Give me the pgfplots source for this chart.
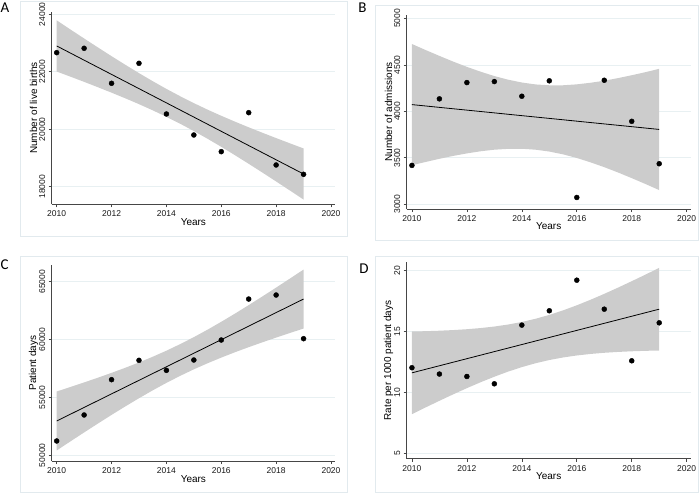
\documentclass[border=0pt]{standalone}
\usepackage{pgfplots}
\pgfplotsset{compat=1.18}
\usepackage{fontspec}
\setmainfont{Liberation Sans}
\newfontfamily\letterfont{Carlito}
\definecolor{gridc}{RGB}{232,240,242}
\definecolor{boxc}{RGB}{226,234,238}
\definecolor{bandc}{RGB}{204,204,204}
\definecolor{axc}{RGB}{70,70,70}
\pgfplotsset{
  panel/.style={
    scale only axis,
    anchor=south west,
    axis x line*=bottom, axis y line*=left,
    axis line style={axc, line width=0.7pt, -},
    tick style={axc, line width=0.6pt},
    tick align=outside,
    major tick length=3pt,
    xtick={2010,2012,...,2020},
    scaled y ticks=false, scaled x ticks=false,
    /pgf/number format/assume math mode=true,
    /pgf/number format/1000 sep={},
    ymajorgrids, grid style={gridc, line width=0.6pt},
    ticklabel style={font=\fontsize{8.5}{9}\selectfont, text=black!90},
    yticklabel style={rotate=90, anchor=south},
    xticklabel style={anchor=north},
    label style={font=\fontsize{7.8}{9}\selectfont, text=black!90},
    xlabel={Years},
    every axis x label/.style={at={(axis description cs:0.5,-0.09)}, anchor=center},
    every axis y label/.style={at={(axis description cs:-0.064,0.5)}, anchor=center, rotate=90},
  },
  band/.style={fill=bandc, draw=none},
  fit/.style={black, line width=0.8pt},
  pts/.style={only marks, mark=*, mark size=2.5pt, black},
}
\begin{document}
\begin{tikzpicture}
\path[use as bounding box] (0pt,0pt) rectangle (700pt,493pt);
\draw[boxc, line width=0.6pt] (20pt,256.3pt) rectangle (347pt,491.3pt);
\draw[boxc, line width=0.6pt] (375pt,252.3pt) rectangle (698pt,488pt);
\draw[boxc, line width=0.6pt] (20pt,0.7pt) rectangle (347pt,236.3pt);
\draw[boxc, line width=0.6pt] (375pt,0.7pt) rectangle (698pt,236.3pt);
\node[font=\letterfont\fontsize{15}{16}\selectfont] at (5pt,485pt) {A};
\node[font=\letterfont\fontsize{15}{16}\selectfont] at (362.5pt,485pt) {B};
\node[font=\letterfont\fontsize{15}{16}\selectfont] at (4.5pt,228pt) {C};
\node[font=\letterfont\fontsize{15}{16}\selectfont] at (364pt,224.5pt) {D};

% Panel A
\begin{axis}[panel, at={(51.7pt,288.7pt)}, width=283.3pt, height=192.6pt,
  xmin=2009.818, xmax=2020.146, ymin=17387, ymax=24090,
  ytick={18000,20000,22000,24000}, ylabel={Number of live births}]
\addplot[band] coordinates {(2010,23788) (2010.5,23471) (2011,23158) (2011.5,22848) (2012,22542) (2012.5,22244) (2013,21952) (2013.5,21672) (2014,21403) (2014.5,21149) (2015,20908) (2015.5,20681) (2016,20467) (2016.5,20263) (2017,20066) (2017.5,19877) (2018,19691) (2018.5,19510) (2019,19331)
 (2019,17551) (2018.5,17868) (2018,18181) (2017.5,18491) (2017,18796) (2016.5,19095) (2016,19387) (2015.5,19667) (2015,19936) (2014.5,20191) (2014,20431) (2013.5,20658) (2013,20872) (2012.5,21076) (2012,21272) (2011.5,21462) (2011,21648) (2010.5,21829) (2010,22008)} -- cycle;
\addplot[fit] coordinates {(2010,22898) (2019,18441)};
\addplot[pts] coordinates {(2010,22665) (2011,22816) (2012,21598) (2013,22294) (2014,20530) (2015,19799) (2016,19219) (2017,20576) (2018,18755) (2019,18430)};
\end{axis}

% Panel B
\begin{axis}[panel, at={(406.7pt,284pt)}, width=284pt, height=194pt,
  xmin=2009.81, xmax=2020.146, ymin=2949, ymax=5036,
  ytick={3000,3500,4000,4500,5000}, ylabel={Number of admissions}]
\addplot[band] coordinates {(2010,4724) (2010.5,4659) (2011,4596) (2011.5,4535) (2012,4478) (2012.5,4426) (2013,4379) (2013.5,4340) (2014,4310) (2014.5,4289) (2015,4280) (2015.5,4280) (2016,4290) (2016.5,4307) (2017,4329) (2017.5,4357) (2018,4388) (2018.5,4421) (2019,4457)
 (2019,3152) (2018.5,3218) (2018,3281) (2017.5,3342) (2017,3399) (2016.5,3451) (2016,3498) (2015.5,3537) (2015,3567) (2014.5,3587) (2014,3597) (2013.5,3596) (2013,3587) (2012.5,3570) (2012,3547) (2011.5,3520) (2011,3489) (2010.5,3455) (2010,3420)} -- cycle;
\addplot[fit] coordinates {(2010,4072) (2019,3805)};
\addplot[pts] coordinates {(2010,3418) (2011,4134) (2012,4309) (2013,4320) (2014,4162) (2015,4328) (2016,3073) (2017,4334) (2018,3892) (2019,3436)};
\end{axis}

% Panel C
\begin{axis}[panel, at={(51.7pt,32pt)}, width=283.3pt, height=196pt,
  xmin=2009.818, xmax=2020.146, ymin=49507, ymax=66443,
  ytick={50000,55000,60000,65000}, ylabel={Patient days}]
\addplot[band] coordinates {(2010,55513) (2010.5,55900) (2011,56297) (2011.5,56703) (2012,57124) (2012.5,57562) (2013,58024) (2013.5,58515) (2014,59039) (2014.5,59605) (2015,60210) (2015.5,60856) (2016,61537) (2016.5,62245) (2017,62978) (2017.5,63728) (2018,64492) (2018.5,65267) (2019,66050)
 (2019,60954) (2018.5,60567) (2018,60170) (2017.5,59764) (2017,59344) (2016.5,58905) (2016,58443) (2015.5,57952) (2015,57428) (2014.5,56863) (2014,56257) (2013.5,55611) (2013,54930) (2012.5,54222) (2012,53490) (2011.5,52739) (2011,51975) (2010.5,51200) (2010,50417)} -- cycle;
\addplot[fit] coordinates {(2010,52965) (2019,63502)};
\addplot[pts] coordinates {(2010,51238) (2011,53484) (2012,56535) (2013,58205) (2014,57341) (2015,58234) (2016,59961) (2017,63502) (2018,63848) (2019,60077)};
\end{axis}

% Panel D
\begin{axis}[panel, at={(406.7pt,34.3pt)}, width=284pt, height=196.4pt,
  xmin=2009.81, xmax=2020.146, ymin=4.556, ymax=20.69,
  ytick={5,10,15,20}, ylabel={Rate per 1000 patient days}]
\addplot[band] coordinates {(2010,15.005) (2010.5,15.032) (2011,15.070) (2011.5,15.123) (2012,15.193) (2012.5,15.289) (2013,15.414) (2013.5,15.578) (2014,15.788) (2014.5,16.052) (2015,16.370) (2015.5,16.740) (2016,17.158) (2016.5,17.613) (2017,18.099) (2017.5,18.609) (2018,19.138) (2018.5,19.680) (2019,20.235)
 (2019,13.445) (2018.5,13.418) (2018,13.380) (2017.5,13.327) (2017,13.257) (2016.5,13.161) (2016,13.036) (2015.5,12.872) (2015,12.662) (2014.5,12.398) (2014,12.080) (2013.5,11.710) (2013,11.292) (2012.5,10.837) (2012,10.351) (2011.5,9.841) (2011,9.312) (2010.5,8.770) (2010,8.215)} -- cycle;
\addplot[fit] coordinates {(2010,11.61) (2019,16.84)};
\addplot[pts] coordinates {(2010,12.03) (2011,11.51) (2012,11.31) (2013,10.71) (2014,15.53) (2015,16.71) (2016,19.22) (2017,16.84) (2018,12.60) (2019,15.72)};
\end{axis}
\end{tikzpicture}
\end{document}
